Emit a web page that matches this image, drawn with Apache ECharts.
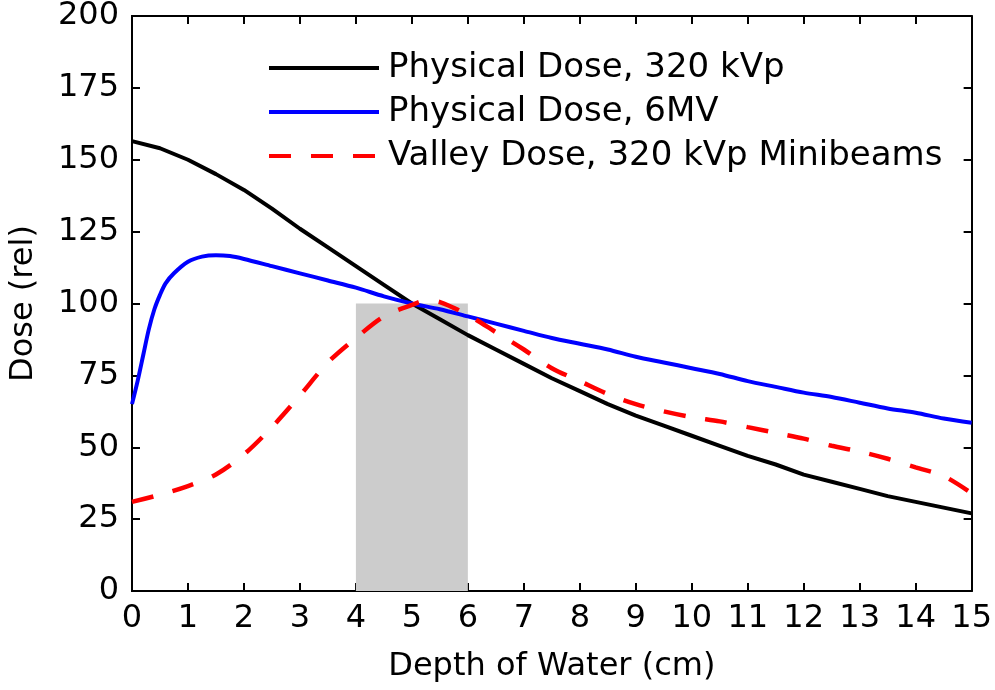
<!DOCTYPE html>
<html>
<head>
<meta charset="utf-8">
<script src="https://cdn.jsdelivr.net/npm/echarts@6/dist/echarts.min.js"></script>
<style>
html,body{margin:0;padding:0;background:#fff;}
#chart{width:995px;height:690px;}
</style>
</head>
<body>
<div id="chart"></div>
<script>
// Depth (cm) / dose values
const blackX = [0,0.5,1,1.5,2,2.5,3,3.5,4,4.5,5,5.5,6,6.5,7,7.5,8,8.5,9,9.5,10,10.5,11,11.5,12,12.5,13,13.5,14,14.5,15];
const blackY = [156.5,154,150,145,139.5,133,126,119.5,113,106.5,100,94.5,89,84,79,74,69.5,65,61,57.5,54,50.5,47,44,40.5,38,35.5,33,31,29,27];

const blueX = [0,0.1,0.2,0.3,0.4,0.5,0.6,0.75,1,1.25,1.5,1.75,2,2.5,3,3.5,4,4.5,5,5.5,6,6.5,7,7.5,8,8.5,9,9.5,10,10.5,11,11.5,12,12.5,13,13.5,14,14.5,15];
const blueY = [65,73,82,91,98,103,107,110.5,114.5,116.3,116.8,116.5,115.5,113,110.5,108,105.5,102.5,100,98,95.5,93,90.5,88,86,84,81.5,79.5,77.5,75.5,73,71,69,67.5,65.5,63.5,62,60,58.5];

const redX = [0,0.5,1,1.5,2,2.5,3,3.5,4,4.5,5,5.25,5.5,6,6.5,7,7.5,8,8.5,9,9.5,10,10.5,11,11.5,12,12.5,13,13.5,14,14.5,15];
const redY = [31,33.5,36.5,40.5,47.5,57,68,79.5,88,95.5,99.5,101,100.5,96,90,84,77.5,73,68.5,65,62.5,60.5,59,57,55,53,50.5,48.5,46,43,40,34];

const seriesNames = ['Physical Dose, 320 kVp', 'Physical Dose, 6MV', 'Valley Dose, 320 kVp Minibeams'];
const shadeX = [4, 6];
const shadeY = [0, 100];

const xTicks = [0,1,2,3,4,5,6,7,8,9,10,11,12,13,14,15];
const yTicks = [0,25,50,75,100,125,150,175,200];

const zip = (xs, ys) => xs.map((x, i) => [x, ys[i]]);
const FONT = 'DejaVu Sans';

const chart = echarts.init(document.getElementById('chart'), null, {renderer: 'canvas'});
const mkLine = () => ({show: true, onZero: false, lineStyle: {color: '#000', width: 2}});
const mkTick = () => ({show: true, inside: true, length: 8, lineStyle: {color: '#000', width: 2}});
const xBase = () => ({type: 'value', min: xTicks[0], max: xTicks[xTicks.length - 1], interval: 1, splitLine: {show: false}, offset: 0});
const yBase = () => ({type: 'value', min: yTicks[0], max: yTicks[yTicks.length - 1], interval: 25, splitLine: {show: false}, offset: 0});

chart.setOption({
  animation: false,
  backgroundColor: '#fff',
  grid: {left: 130, right: 23, top: 14, bottom: 99},
  legend: {
    data: seriesNames,
    orient: 'vertical',
    left: 267,
    top: 51,
    padding: 0,
    itemWidth: 110,
    itemHeight: 20,
    itemGap: 10,
    itemStyle: {opacity: 0},
    lineStyle: {width: 4},
    textStyle: {fontFamily: FONT, fontSize: 34, color: '#000', lineHeight: 34, padding: [0, 0, 0, 4]}
  },
  xAxis: [
    Object.assign(xBase(), {
      position: 'bottom',
      axisLine: mkLine(), axisTick: {show: false},
      axisLabel: {fontFamily: FONT, fontSize: 32, color: '#000', margin: 12},
      name: 'Depth of Water (cm)', nameLocation: 'middle', nameGap: 60,
      nameTextStyle: {fontFamily: FONT, fontSize: 32, color: '#000'}
    }),
    Object.assign(xBase(), {position: 'top', axisLine: mkLine(), axisTick: mkTick(), axisLabel: {show: false}}),
    Object.assign(xBase(), {position: 'bottom', axisLine: mkLine(), axisTick: mkTick(), axisLabel: {show: false}})
  ],
  yAxis: [
    Object.assign(yBase(), {
      position: 'left',
      axisLine: mkLine(), axisTick: {show: false},
      axisLabel: {fontFamily: FONT, fontSize: 32, color: '#000', margin: 13},
      name: 'Dose (rel)', nameLocation: 'middle', nameGap: 92, nameRotate: 90,
      nameTextStyle: {fontFamily: FONT, fontSize: 32, color: '#000'}
    }),
    Object.assign(yBase(), {position: 'right', axisLine: mkLine(), axisTick: mkTick(), axisLabel: {show: false}}),
    Object.assign(yBase(), {position: 'left', axisLine: mkLine(), axisTick: mkTick(), axisLabel: {show: false}})
  ],
  series: [
    {
      name: 'shade', type: 'line', data: [], silent: true, z: 1,
      markArea: {
        silent: true,
        itemStyle: {color: '#cccccc'},
        data: [[{coord: [shadeX[0], shadeY[0]]}, {coord: [shadeX[1], shadeY[1]]}]]
      }
    },
    {
      name: seriesNames[0], type: 'line', data: zip(blackX, blackY), symbol: 'none', z: 3,
      lineStyle: {color: '#000000', width: 4}, itemStyle: {color: '#000000'}
    },
    {
      name: seriesNames[1], type: 'line', data: zip(blueX, blueY), symbol: 'none', smooth: 0.3, z: 3,
      lineStyle: {color: '#0000ff', width: 4}, itemStyle: {color: '#0000ff'}
    },
    {
      name: seriesNames[2], type: 'line', data: zip(redX, redY), symbol: 'none', smooth: 0.3, z: 4,
      lineStyle: {color: '#ff0000', width: 4.5, type: [22, 20]}, itemStyle: {color: '#ff0000'}
    }
  ]
});
</script>
</body>
</html>
